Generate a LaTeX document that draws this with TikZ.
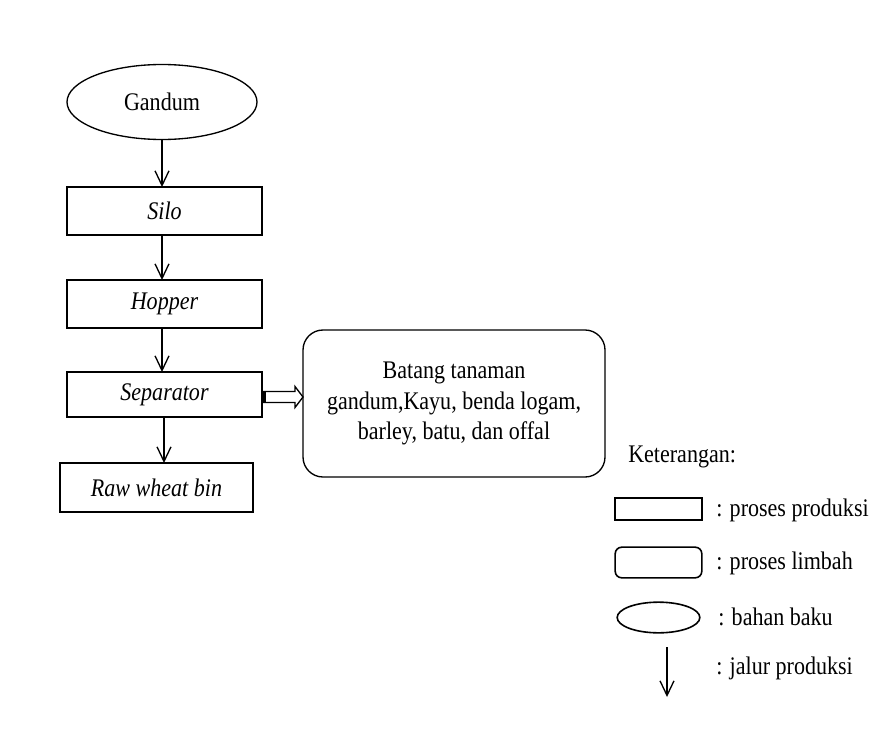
\documentclass[tikz,border=0pt]{standalone}
\usepackage{fontspec}
\setmainfont{Liberation Serif}[FakeStretch=0.87]
\usetikzlibrary{arrows.meta,shapes.geometric,calc}
\begin{document}
\begin{tikzpicture}[x=0.75pt,y=-0.75pt,
  every node/.style={font=\fontsize{19}{23}\selectfont},
  procbox/.style={draw,line width=1pt,inner sep=0pt,outer sep=0pt,font=\fontsize{19}{23}\selectfont\itshape},
  wastebox/.style={draw,line width=1pt,rounded corners=15pt,inner sep=0pt,outer sep=0pt,align=center},
  rawmat/.style={draw,ellipse,line width=1pt,inner sep=0pt,outer sep=0pt},
  flow/.style={line width=1pt,-{Straight Barb[length=11pt,width=10.5pt,line width=1pt]}},
  hollow/.style={draw,line width=1pt,fill=white,line join=miter},
  legtext/.style={anchor=west,inner sep=0pt}]
\useasboundingbox (0,0) rectangle (870,735);

% main process chain
\node[rawmat,minimum width=142.5pt,minimum height=56.25pt] (gandum) at (162,102) {Gandum};
\node[procbox,minimum width=146.25pt,minimum height=36pt] (silo) at (164.5,211) {Silo};
\node[procbox,minimum width=146.25pt,minimum height=36pt] (hopper) at (164.5,304) {Hopper};
\node[procbox,minimum width=146.25pt,minimum height=33.75pt] (sep) at (164.5,394.5) {Separator};
\node[procbox,minimum width=144.75pt,minimum height=36.75pt] (bin) at (156.5,487.5) {Raw wheat bin};

% waste output
\node[wastebox,minimum width=226.5pt,minimum height=110.25pt] (waste) at (454,403.5)
  {Batang tanaman\\gandum,Kayu, benda logam,\\barley, batu, dan offal};

% production flow
\draw[flow] (gandum.south) -- (gandum.south |- silo.north);
\draw[flow] (silo.south -| gandum) -- (hopper.north -| gandum);
\draw[flow] (hopper.south -| gandum) -- (sep.north -| gandum);
\draw[flow] ($(sep.south -| gandum)+(2,0)$) -- ($(bin.north -| gandum)+(2,0)$);

% hollow arrow towards the waste box
\coordinate (wbase) at ($(sep.east)+(0,2.5)$);
\coordinate (wtip) at (wbase -| waste.west);
\draw[hollow] ($(wbase)+(0,-5.5)$) -- ($(wtip)+(-8,-5.5)$) -- ($(wtip)+(-8,-10.5)$)
  -- (wtip) -- ($(wtip)+(-8,10.5)$) -- ($(wtip)+(-8,5.5)$) -- ($(wbase)+(0,5.5)$) -- cycle;
\fill ($(wbase)+(0,-5.5)$) rectangle ($(wbase)+(3.5,5.5)$);

% legend
\node[legtext] (ket) at (628,457) {Keterangan:};
\node[draw,line width=1.2pt,inner sep=0pt,minimum width=65pt,minimum height=16.5pt] (lrect) at (658.5,509) {};
\node[legtext] (trect) at (716,510) {: proses produksi};
\node[draw,line width=1.2pt,rounded corners=5pt,inner sep=0pt,minimum width=65pt,minimum height=23pt] (lround) at (658.5,562.5) {};
\node[legtext] (tround) at (716,563) {: proses limbah};
\node[rawmat,line width=1.2pt,minimum width=62pt,minimum height=23pt] (lell) at (658.5,617.5) {};
\node[legtext] (tell) at (718,617) {: bahan baku};
\coordinate (la1) at (667,647);
\coordinate (la2) at (667,697);
\draw[flow] (la1) -- (la2);
\node[legtext] (tarrow) at (716,668) {: jalur produksi};
\end{tikzpicture}
\end{document}
